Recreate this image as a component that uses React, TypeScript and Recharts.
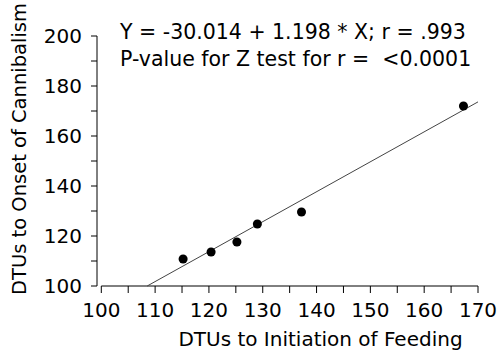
import * as React from 'react';
import { ScatterChart, Scatter, XAxis, YAxis, ReferenceLine, Label } from 'recharts';

// Feeding vs cannibalism onset (DTUs)
const feeding = [115.2, 120.4, 125.2, 129, 137.2, 167.3];
const cannibalism = [110.8, 113.6, 117.6, 124.8, 129.6, 172];

const xTicks = [100, 105, 110, 115, 120, 125, 130, 135, 140, 145, 150, 155, 160, 165, 170];
const yTicks = [100, 110, 120, 130, 140, 150, 160, 170, 180, 190, 200];

// fitted regression
const intercept = -30.014;
const slope = 1.198;
const fitLine = 'Y = -30.014 + 1.198 * X; r = .993';
const pLine = 'P-value for Z test for r =  <0.0001';

const points = feeding.map((x, i) => ({ x, y: cannibalism[i] }));

const font = '"DejaVu Sans", Verdana, sans-serif';

export default function App() {
  const fitStart = (100 - intercept) / slope;
  return (
    <div style={{ position: 'absolute', left: 0, top: 0, width: 500, height: 356, background: '#fff', fontFamily: font }}>
      <ScatterChart width={500} height={356} margin={{ top: 36, right: 22, bottom: 0, left: 0 }}>
        <XAxis
          type="number"
          dataKey="x"
          domain={[99.2, 170]}
          ticks={xTicks}
          tickFormatter={(v: number) => (v % 10 === 0 ? String(v) : '')}
          axisLine={false}
          tickLine={{ stroke: '#000' }}
          tickSize={7}
          tickMargin={10}
          height={70}
          tick={{ fill: '#000', fontSize: 20, fontFamily: font }}
          interval={0}
        >
          <Label value="DTUs to Initiation of Feeding" position="insideBottom" offset={10} dx={33} fill="#000" fontSize={20} fontFamily={font} />
        </XAxis>
        <YAxis
          type="number"
          dataKey="y"
          domain={[100, 200]}
          ticks={yTicks}
          tickFormatter={(v: number) => (v % 20 === 0 ? String(v) : '')}
          axisLine={{ stroke: '#000' }}
          tickLine={{ stroke: '#000' }}
          tickSize={6}
          tickMargin={9}
          width={97}
          tick={{ fill: '#000', fontSize: 20, fontFamily: font }}
          interval={0}
        >
          <Label value="DTUs to Onset of  Cannibalism" angle={-90} position="insideLeft" offset={0} dx={19} dy={-12} fill="#000" fontSize={19.5} fontFamily={font} style={{ textAnchor: 'middle', whiteSpace: 'pre' }} />
        </YAxis>
        <ReferenceLine
          segment={[{ x: 100, y: 100 }, { x: 170, y: 100 }]}
          stroke="#000"
          ifOverflow="visible"
        />
        <ReferenceLine
          segment={[{ x: fitStart, y: 100 }, { x: 170, y: intercept + slope * 170 }]}
          stroke="#444"
          strokeWidth={1}
          ifOverflow="visible"
        />
        <Scatter data={points} fill="#000" isAnimationActive={false} />
      </ScatterChart>
      <div style={{ position: 'absolute', left: 120, top: 19, fontSize: 20.5, lineHeight: '27px', color: '#000', whiteSpace: 'pre' }}>
        <div>{fitLine}</div>
        <div>{pLine}</div>
      </div>
    </div>
  );
}
